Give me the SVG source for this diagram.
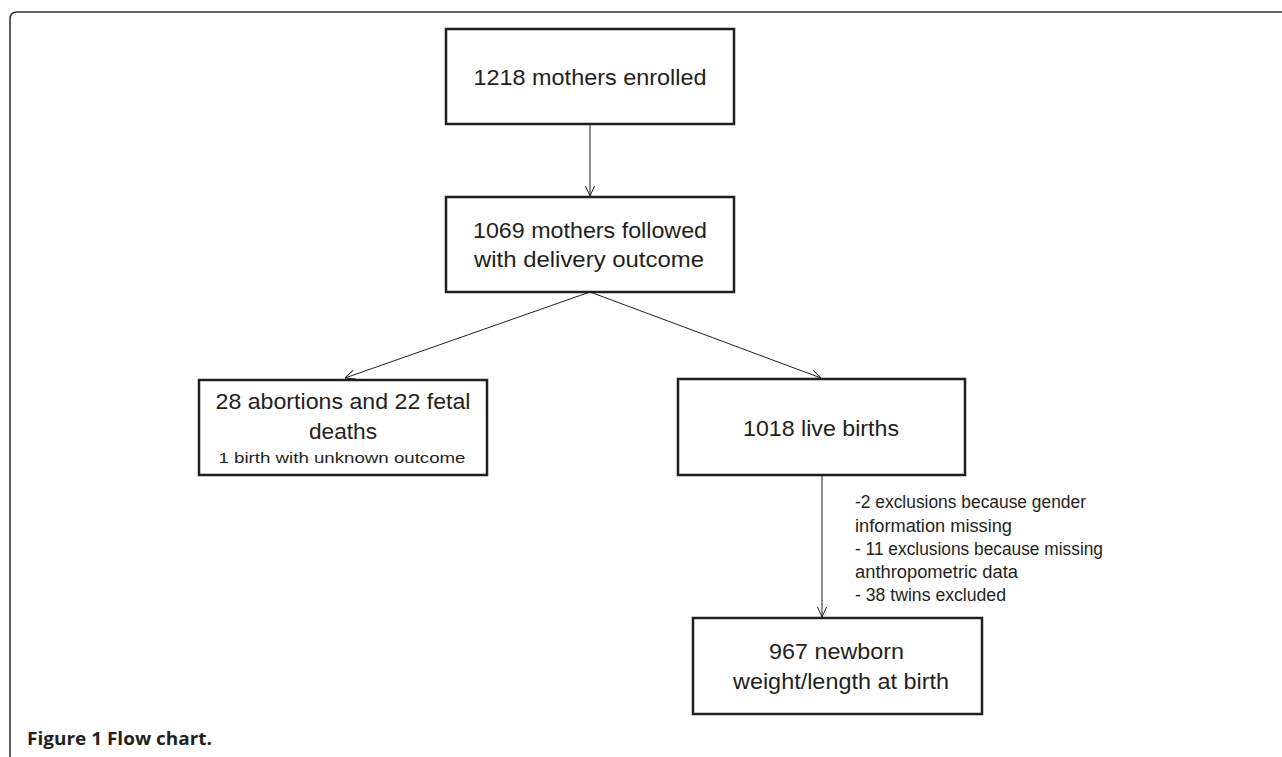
<svg xmlns="http://www.w3.org/2000/svg" width="1282" height="757" viewBox="0 0 1282 757">
<style>
.box{fill:#fff;stroke:#231f20;stroke-width:2.5}
.t{font-family:"Liberation Sans",Arial,sans-serif;fill:#231f20;text-anchor:middle}
.big{font-size:22px}
.small{font-size:15px}
.side{font-family:"Liberation Sans",Arial,sans-serif;fill:#231f20;font-size:17.5px}
.conn{stroke:#231f20;stroke-width:1;fill:none}
.cap{font-family:"Open Sans","Liberation Sans",sans-serif;font-weight:bold;font-size:17px;fill:#231f20}
.frame{stroke:#333;stroke-width:1.6;fill:none}
</style>
<defs>
<marker id="arr" viewBox="0 0 10 10" refX="10" refY="5" markerWidth="10" markerHeight="10" markerUnits="userSpaceOnUse" orient="auto">
<path d="M0,0.5 L10,5 L0,9.5" fill="none" stroke="#231f20" stroke-width="1"/>
</marker>
</defs>
<rect width="1282" height="757" fill="#fff"/>
<path class="frame" d="M10,757 L10,19 Q10,12 17,12 L1282,12"/>
<g id="connectors">
<line class="conn" x1="590" y1="124" x2="590" y2="196" marker-end="url(#arr)"/>
<line class="conn" x1="590" y1="292" x2="345" y2="378" marker-end="url(#arr)"/>
<line class="conn" x1="590" y1="292" x2="821" y2="378" marker-end="url(#arr)"/>
<line class="conn" x1="822" y1="475" x2="822" y2="617" marker-end="url(#arr)"/>
</g>
<g id="n1">
<rect class="box" x="446" y="29" width="288" height="95"/>
<text class="t big" x="590" y="85" textLength="233" lengthAdjust="spacingAndGlyphs">1218 mothers enrolled</text>
</g>
<g id="n2">
<rect class="box" x="446" y="197" width="288" height="95"/>
<text class="t big" x="590" y="238" textLength="234" lengthAdjust="spacingAndGlyphs">1069 mothers followed</text>
<text class="t big" x="589" y="267" textLength="230" lengthAdjust="spacingAndGlyphs">with delivery outcome</text>
</g>
<g id="n3">
<rect class="box" x="199" y="380" width="288" height="95"/>
<text class="t big" x="343" y="409" textLength="255" lengthAdjust="spacingAndGlyphs">28 abortions and 22 fetal</text>
<text class="t big" x="343" y="439" textLength="68" lengthAdjust="spacingAndGlyphs">deaths</text>
<text class="t small" x="342" y="463" textLength="247" lengthAdjust="spacingAndGlyphs">1 birth with unknown outcome</text>
</g>
<g id="n4">
<rect class="box" x="678" y="379" width="287" height="96"/>
<text class="t big" x="821" y="436" textLength="156" lengthAdjust="spacingAndGlyphs">1018 live births</text>
</g>
<g id="note">
<text class="side" x="855" y="508" textLength="231" lengthAdjust="spacingAndGlyphs">-2 exclusions because gender</text>
<text class="side" x="855" y="532" textLength="157" lengthAdjust="spacingAndGlyphs">information missing</text>
<text class="side" x="855" y="555" textLength="248" lengthAdjust="spacingAndGlyphs">- 11 exclusions because missing</text>
<text class="side" x="855" y="578" textLength="163" lengthAdjust="spacingAndGlyphs">anthropometric data</text>
<text class="side" x="855" y="601" textLength="151" lengthAdjust="spacingAndGlyphs">- 38 twins excluded</text>
</g>
<g id="n5">
<rect class="box" x="693" y="618" width="289" height="96"/>
<text class="t big" x="836.5" y="659" textLength="135" lengthAdjust="spacingAndGlyphs">967 newborn</text>
<text class="t big" x="841" y="689" textLength="216" lengthAdjust="spacingAndGlyphs">weight/length at birth</text>
</g>
<text class="cap" x="27" y="745" textLength="185" lengthAdjust="spacingAndGlyphs">Figure 1 Flow chart.</text>
</svg>
